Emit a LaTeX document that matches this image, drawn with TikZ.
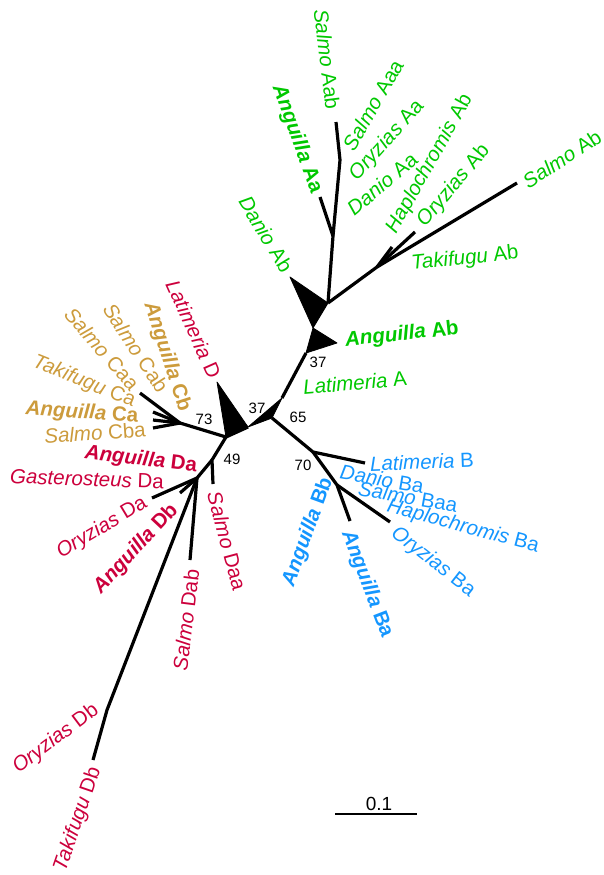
\documentclass[tikz,border=0pt]{standalone}
\usepackage{fontspec}
\setmainfont{Liberation Sans}
\definecolor{cgreen}{RGB}{0,200,0}
\definecolor{cblue}{RGB}{20,150,255}
\definecolor{cred}{RGB}{204,0,60}
\definecolor{cgold}{RGB}{204,155,60}
\newcommand{\tx}[2]{\textit{#1} #2}
\newcommand{\txb}[2]{\textbf{\textit{#1} #2}}
\begin{document}
\begin{tikzpicture}[x=1pt,y=-1pt,
  br/.style={line width=3.2pt, line join=round},
  lab/.style={font=\fontsize{20.5}{24}\selectfont, inner sep=0pt, anchor=center},
  num/.style={font=\fontsize{15}{18}\selectfont, inner sep=0pt},
  tri/.style={fill=black, draw=black, line width=0.8pt, line join=round}]
\useasboundingbox (0,0) rectangle (604,875);
% ---------- internal nodes and tips ----------
\coordinate (gA0) at (328,303);
\coordinate (tDa) at (290,277);
\coordinate (tDb) at (313,328);
\coordinate (tAb) at (337,343);
\coordinate (tAc) at (306,353);
\coordinate (n37) at (282,398);
\coordinate (n65) at (272,418);
\coordinate (nW) at (248,427);
\coordinate (tLD) at (217,382);
\coordinate (nD0) at (226,437);
\coordinate (gAa) at (333,236);
\coordinate (tAa) at (320,197);
\coordinate (kS) at (340,160);
\coordinate (tSa) at (336,122);
\coordinate (gAb) at (377,267);
\coordinate (tSAb) at (517,183);
\coordinate (tOAb) at (415,232);
\coordinate (tHAb) at (392,247);
\coordinate (nC) at (180,423);
\coordinate (tC1) at (140,393);
\coordinate (tC2) at (153,412);
\coordinate (tC3) at (153,420);
\coordinate (tC4) at (153,428);
\coordinate (n49) at (212,460);
\coordinate (tDaa) at (213,484);
\coordinate (nD1) at (197,478);
\coordinate (tGa) at (152,498);
\coordinate (tOD) at (180,493);
\coordinate (tDab) at (190,560);
\coordinate (nDb) at (107,710);
\coordinate (tTDb) at (93,760);
\coordinate (nB70) at (313,452);
\coordinate (tLB) at (365,463);
\coordinate (nB1) at (337,485);
\coordinate (tBa) at (350,521);
\coordinate (tBo) at (390,522);
\coordinate (sb1) at (335,814);
\coordinate (sb2) at (417,814);
% ---------- collapsed-branch wedges ----------
\fill[tri] (tDa) -- (gA0) -- (tDb) -- cycle;
\fill[tri] (tDb) -- (tAb) -- (tAc) -- cycle;
\fill[tri] (n37) -- (n65) -- (nW) -- cycle;
\fill[tri] (tLD) -- (nW) -- (nD0) -- cycle;
% ---------- branches ----------
\draw[br] (tAc) -- (n37);
\draw[br] (nW) -- (nD0);
\draw[br] (gA0) -- (gAa) -- (kS) -- (tSa);
\draw[br] (gAa) -- (tAa);
\draw[br] (gA0) -- (gAb) -- (tSAb);
\draw[br] (gAb) -- (tOAb);
\draw[br] (gAb) -- (tHAb);
\draw[br] (nD0) -- (nC) -- (tC1);
\draw[br] (nC) -- (tC2);
\draw[br] (nC) -- (tC3);
\draw[br] (nC) -- (tC4);
\draw[br] (nD0) -- (n49) -- (tDaa);
\draw[br] (n49) -- (nD1) -- (tGa);
\draw[br] (nD1) -- (tOD);
\draw[br] (nD1) -- (tDab);
\draw[br] (nD1) -- (nDb) -- (tTDb);
\draw[br] (n65) -- (nB70) -- (tLB);
\draw[br] (nB70) -- (nB1) -- (tBa);
\draw[br] (nB1) -- (tBo);
\draw[line width=1.3pt] (sb1) -- (sb2);
% ---------- support values ----------
\node[num] (b37a) at (318,362) {37};
\node[num] (b37b) at (257,408) {37};
\node[num] (b65) at (298,417) {65};
\node[num] (b73) at (204,419) {73};
\node[num] (b49) at (232,459) {49};
\node[num] (b70) at (303,465) {70};
\node[font=\fontsize{19}{22}\selectfont, inner sep=0pt] (sbl) at (379,804) {0.1};
% ---------- green labels ----------
\begin{scope}[every node/.style={lab, text=cgreen}]
\node[rotate=-83] (l1) at (327,59) {\tx{Salmo}{Aab}};
\node[rotate=-70] (l2) at (297,139) {\txb{Anguilla}{Aa}};
\node[rotate=60] (l3) at (373,105) {\tx{Salmo}{Aaa}};
\node[rotate=48] (l4) at (387,141) {\tx{Oryzias}{Aa}};
\node[rotate=40] (l5) at (382,184) {\tx{Danio}{Aa}};
\node[rotate=61] (l6) at (430,164) {\tx{Haplochromis}{Ab}};
\node[rotate=50] (l7) at (454,186) {\tx{Oryzias}{Ab}};
\node[rotate=33] (l8) at (562,159) {\tx{Salmo}{Ab}};
\node[rotate=6] (l9) at (465,259) {\tx{Takifugu}{Ab}};
\node[rotate=-59] (l10) at (266,234) {\tx{Danio}{Ab}};
\node[rotate=6] (l11) at (402,335) {\txb{Anguilla}{Ab}};
\node[rotate=5] (l12) at (355,383) {\tx{Latimeria}{A}};
\end{scope}
% ---------- gold labels ----------
\begin{scope}[every node/.style={lab, text=cgold}]
\node[rotate=-72] (l13) at (167,357) {\txb{Anguilla}{Cb}};
\node[rotate=-57] (l14) at (136,348) {\tx{Salmo}{Cab}};
\node[rotate=-49] (l15) at (102,349) {\tx{Salmo}{Caa}};
\node[rotate=-22] (l16) at (84,382) {\tx{Takifugu}{Ca}};
\node[rotate=-4] (l17) at (82,413) {\txb{Anguilla}{Ca}};
\node[rotate=4] (l18) at (95,433) {\tx{Salmo}{Cba}};
\end{scope}
% ---------- red labels ----------
\begin{scope}[every node/.style={lab, text=cred}]
\node[rotate=-66] (l19) at (194,329) {\tx{Latimeria}{D}};
\node[rotate=-7] (l20) at (141,460) {\txb{Anguilla}{Da}};
\node[rotate=-2] (l21) at (87,479) {\tx{Gasterosteus}{Da}};
\node[rotate=31] (l22) at (102,528) {\tx{Oryzias}{Da}};
\node[rotate=47] (l23) at (136,549) {\txb{Anguilla}{Db}};
\node[rotate=83] (l24) at (186,620) {\tx{Salmo}{Dab}};
\node[rotate=-75] (l25) at (227,541) {\tx{Salmo}{Daa}};
\node[rotate=37] (l26) at (56,739) {\tx{Oryzias}{Db}};
\node[rotate=71] (l27) at (78,819) {\tx{Takifugu}{Db}};
\end{scope}
% ---------- blue labels ----------
\begin{scope}[every node/.style={lab, text=cblue}]
\node[rotate=2] (l28) at (422,462) {\tx{Latimeria}{B}};
\node[rotate=-10] (l29) at (382,479) {\tx{Danio}{Ba}};
\node[rotate=-10] (l30) at (408,497) {\tx{Salmo}{Baa}};
\node[rotate=-15] (l31) at (463,527) {\tx{Haplochromis}{Ba}};
\node[rotate=-38] (l32) at (433,562) {\tx{Oryzias}{Ba}};
\node[rotate=70] (l33) at (308,532) {\txb{Anguilla}{Bb}};
\node[rotate=-69] (l34) at (367,584) {\txb{Anguilla}{Ba}};
\end{scope}
\end{tikzpicture}
\end{document}
